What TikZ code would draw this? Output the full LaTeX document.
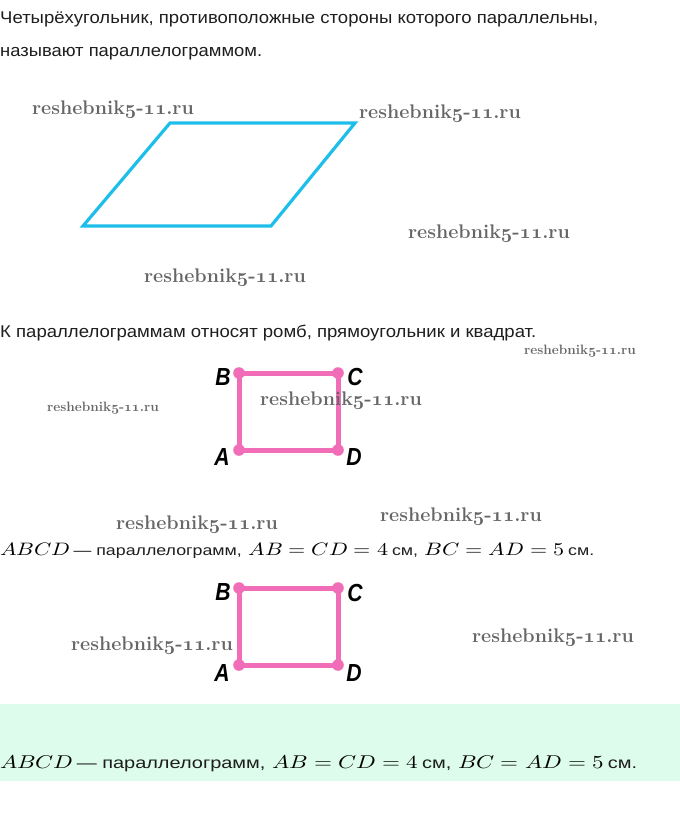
\documentclass[tikz,border=0pt]{standalone}
\usepackage{fontspec}
\usepackage{unicode-math}
\setmathfont{Latin Modern Math}
\newfontfamily\rufont{Liberation Sans}
\definecolor{parcyan}{HTML}{1EBEEA}
\definecolor{sqpink}{HTML}{F26DB8}
\definecolor{mint}{HTML}{DDFCEC}
\definecolor{bodytext}{HTML}{1E1E1E}
\definecolor{wmgray}{HTML}{666666}
\tikzset{
  bodytxt/.style={inner sep=0pt, anchor=base west, text=bodytext, font=\rufont\fontsize{17}{20}\selectfont},
  wmbig/.style={inner sep=0pt, text=wmgray, font=\rmfamily\bfseries\fontsize{19.7}{22}\selectfont},
  wmsmall/.style={inner sep=0pt, text=wmgray, font=\rmfamily\bfseries\fontsize{13.6}{15}\selectfont},
  parline/.style={draw=parcyan, line width=3.2pt, line join=miter},
  sqline/.style={draw=sqpink, line width=5pt},
  sqdot/.style={fill=sqpink},
  vlab/.style={inner sep=0pt, text=black, font=\rufont\bfseries\itshape\fontsize{23.5}{25}\selectfont},
  mathline/.style={inner sep=0pt, anchor=base west, text=black},
}
\newcommand{\rusmall}[1]{{\rufont\color{bodytext}\fontsize{14.5}{18}\selectfont #1}}
\newcommand{\rusmallb}[1]{{\rufont\color{bodytext}\fontsize{16}{19}\selectfont #1}}
\newcommand{\osnum}[1]{{\usefont{OML}{cmm}{b}{it}#1}}
\newcommand{\wmtext}{reshebnik\osnum{5}-\osnum{11}.ru}
\begin{document}
\begin{tikzpicture}[x=1pt,y=-1pt]
\useasboundingbox (0,0) rectangle (680,814);
% top text
\node[bodytxt] (t1) at (0,23) {\resizebox{598pt}{\height}{Четырёхугольник, противоположные стороны которого параллельны,}};
\node[bodytxt] (t2) at (0,56) {\resizebox{262pt}{\height}{называют параллелограммом.}};
% parallelogram
\coordinate (p1) at (170,123);
\coordinate (p2) at (355,123);
\coordinate (p3) at (271,226);
\coordinate (p4) at (83,226);
\draw[parline] (p1) -- (p2) -- (p3) -- (p4) -- cycle;
% text 3
\node[bodytxt] (t3) at (0,337) {\resizebox{536pt}{\height}{К параллелограммам относят ромб, прямоугольник и квадрат.}};
% square 1
\coordinate (A1) at (239,450);
\coordinate (B1) at (239,373);
\coordinate (C1) at (338,373);
\coordinate (D1) at (338,450);
\draw[sqline] (A1) -- (B1) -- (C1) -- (D1) -- cycle;
\foreach \p in {A1,B1,C1,D1} \fill[sqdot] (\p) circle (5.8);
\node[vlab] (lB1) at (223,377) {\scalebox{0.9}[1.05]{B}};
\node[vlab] (lC1) at (355,377) {\scalebox{0.9}[1.05]{C}};
\node[vlab] (lA1) at (222,457) {\scalebox{0.9}[1.05]{A}};
\node[vlab] (lD1) at (354,457) {\scalebox{0.9}[1.05]{D}};
% math line 1
\node[mathline, font=\fontsize{18}{20}\selectfont] (m1) at (0,555)
  {\resizebox{594pt}{\height}{$ABCD$\,\rusmall{— параллелограмм,} $AB=CD=4$\,\rusmall{см,} $BC=AD=5$\,\rusmall{см.}}};
% square 2
\coordinate (A2) at (239,665);
\coordinate (B2) at (239,588);
\coordinate (C2) at (338,588);
\coordinate (D2) at (338,665);
\draw[sqline] (A2) -- (B2) -- (C2) -- (D2) -- cycle;
\foreach \p in {A2,B2,C2,D2} \fill[sqdot] (\p) circle (5.8);
\node[vlab] (lB2) at (223,592) {\scalebox{0.9}[1.05]{B}};
\node[vlab] (lC2) at (355,593) {\scalebox{0.9}[1.05]{C}};
\node[vlab] (lA2) at (222,673) {\scalebox{0.9}[1.05]{A}};
\node[vlab] (lD2) at (354,673) {\scalebox{0.9}[1.05]{D}};
% mint box
\fill[mint] (0,704) rectangle (680,781);
\node[mathline, font=\fontsize{18.5}{22}\selectfont] (m2) at (0,768)
  {\resizebox{637pt}{\height}{$ABCD$\,\rusmallb{— параллелограмм,} $AB=CD=4$\,\rusmallb{см,} $BC=AD=5$\,\rusmallb{см.}}};
% watermarks
\node[wmbig] (w1) at (113,110) {\wmtext};
\node[wmbig] (w2) at (440,114) {\wmtext};
\node[wmbig] (w3) at (489,234) {\wmtext};
\node[wmbig] (w4) at (225,278) {\wmtext};
\node[wmsmall] (w5) at (580,351) {\wmtext};
\node[wmsmall] (w6) at (103,408) {\wmtext};
\node[wmbig] (w7) at (341,401) {\wmtext};
\node[wmbig] (w8) at (197,525) {\wmtext};
\node[wmbig] (w9) at (461,517) {\wmtext};
\node[wmbig] (w10) at (152,646) {\wmtext};
\node[wmbig] (w11) at (553,638) {\wmtext};
\end{tikzpicture}
\end{document}
